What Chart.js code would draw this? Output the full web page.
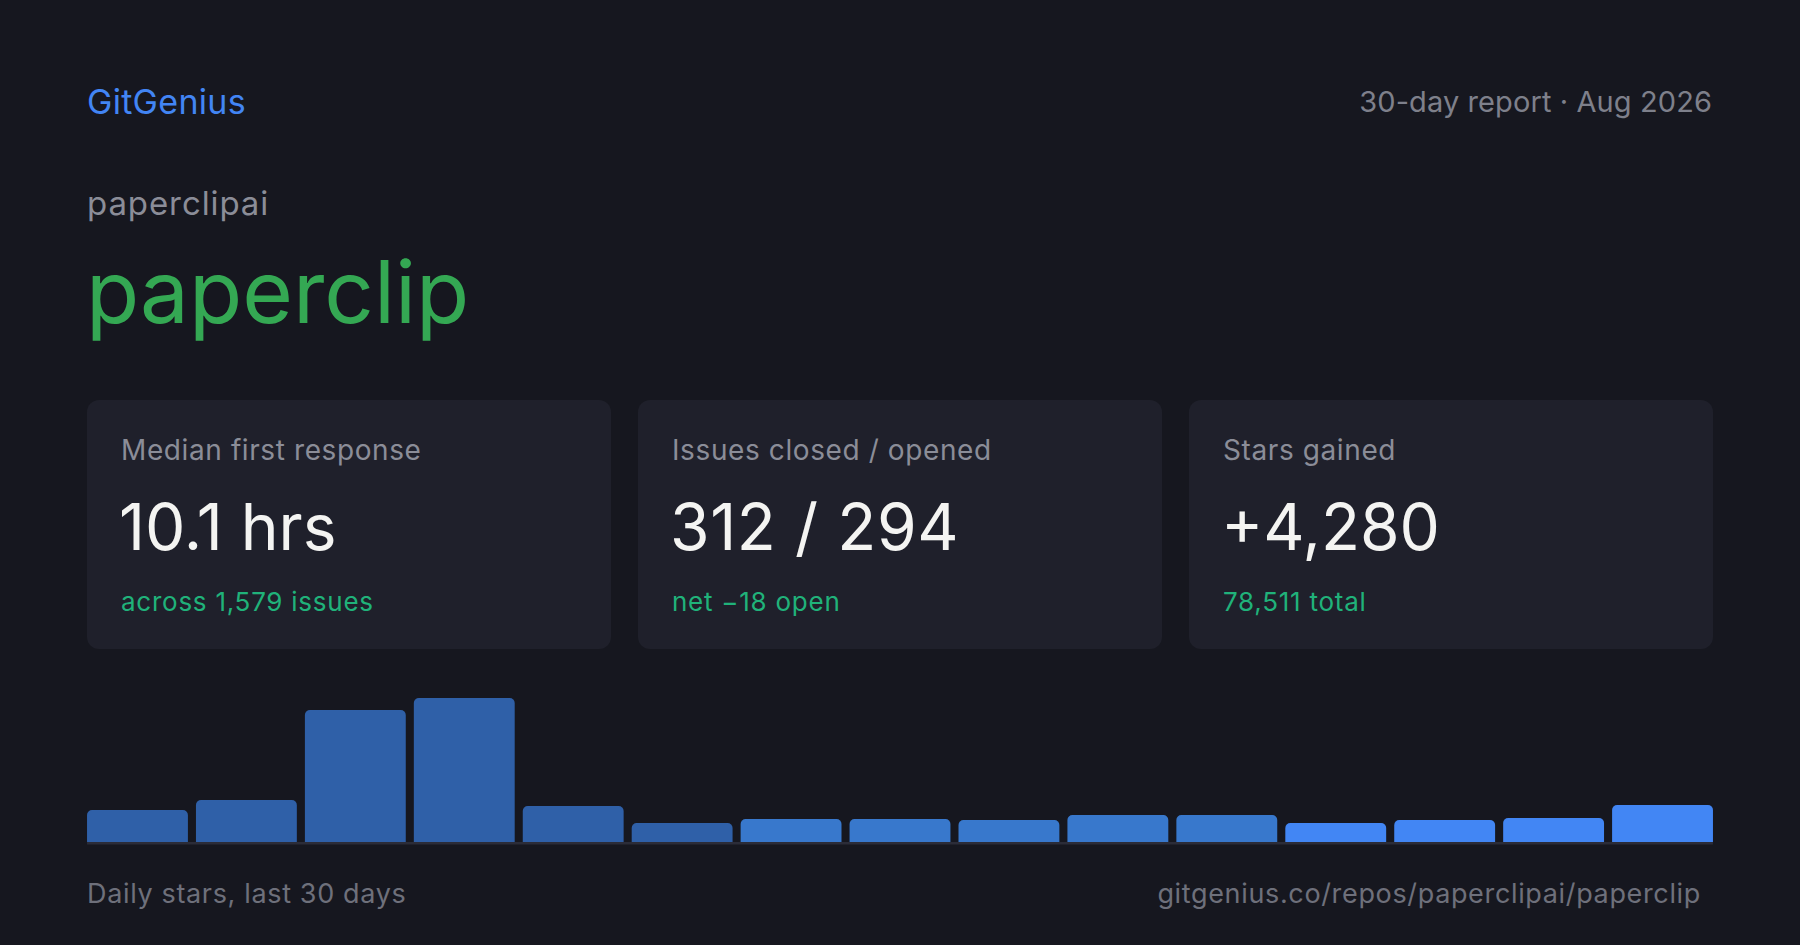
<!DOCTYPE html>
<html>
<head>
<meta charset="utf-8">
<script src="https://cdn.jsdelivr.net/npm/chart.js@4"></script>
<style>
  html, body { margin: 0; padding: 0; }
  body {
    width: 1800px; height: 945px; overflow: hidden;
    background: #16171f;
    font-family: Inter, "Noto Sans", sans-serif;
    position: relative;
  }
  .t { position: absolute; line-height: 1; white-space: nowrap; }
  .brand { left: 87px; top: 85px; font-size: 34px; color: #4285f4; letter-spacing: 0.3px; }
  .period { right: 88px; top: 87px; font-size: 29px; color: #7e808b; letter-spacing: 0.1px; }
  .owner { left: 87px; top: 187px; font-size: 33px; color: #8b8d98; letter-spacing: 0.9px; }
  .repo { left: 86px; top: 248px; font-size: 87px; color: #34a853; }
  .card {
    position: absolute; top: 400px; width: 524px; height: 249px;
    background: #1f202b; border-radius: 12px;
  }
  .card .lbl { left: 34px; top: 36px; font-size: 28px; color: #8b8d98; letter-spacing: 0.6px; }
  .card .val { left: 32px; top: 95px; font-size: 64px; color: #f4f4f2; }
  .card .sub { left: 34px; top: 189px; font-size: 26px; color: #20b27a; letter-spacing: 0.75px; }
  .foot { top: 880px; font-size: 27px; color: #6e707b; letter-spacing: 0.65px; }
  #chartBox { position: absolute; left: 83px; top: 690px; width: 1634px; height: 156px; }
</style>
</head>
<body>
<div class="t brand">GitGenius</div>
<div class="t period">30-day report · Aug 2026</div>
<div class="t owner">paperclipai</div>
<div class="t repo">paperclip</div>

<div class="card" style="left:87px">
  <div class="t lbl">Median first response</div>
  <div class="t val">10.1 hrs</div>
  <div class="t sub">across 1,579 issues</div>
</div>
<div class="card" style="left:638px">
  <div class="t lbl">Issues closed / opened</div>
  <div class="t val" style="letter-spacing:0.6px">312 / 294</div>
  <div class="t sub">net −18 open</div>
</div>
<div class="card" style="left:1189px">
  <div class="t lbl">Stars gained</div>
  <div class="t val">+4,280</div>
  <div class="t sub">78,511 total</div>
</div>

<div id="chartBox"><canvas id="starsChart" width="1634" height="156"></canvas></div>

<div class="t foot" style="left:87px">Daily stars, last 30 days</div>
<div class="t foot" style="right:99px">gitgenius.co/repos/paperclipai/paperclip</div>

<script>
// data: setiap bar = 2 hari
const periods = ["1–2", "3–4", "5–6", "7–8", "9–10", "11–12", "13–14", "15–16",
                 "17–18", "19–20", "21–22", "23–24", "25–26", "27–28", "29–30"];
const starsGained = [218, 286, 898, 980, 245, 129, 156, 156, 150, 184, 184, 129, 150, 163, 252];

// warna bar (lama -> baru)
const barColors = ["#2f60a8", "#2f60a8", "#2f60a8", "#2f60a8", "#2f60a8", "#2f60a8",
                   "#3878cc", "#3878cc", "#3878cc", "#3878cc", "#3878cc",
                   "#4286f4", "#4286f4", "#4286f4", "#4286f4"];

// garis dasar di bawah bar
const baseLine = {
    id: "baseLine",
    beforeDatasetsDraw(chart) {
        const bars = chart.getDatasetMeta(0).data;
        if (!bars.length) return;
        const first = bars[0], last = bars[bars.length - 1];
        const y = chart.scales.y.getPixelForValue(0);
        const ctx = chart.ctx;
        ctx.save();
        ctx.fillStyle = "#2b2c38";
        ctx.fillRect(first.x - first.width / 2, y, (last.x + last.width / 2) - (first.x - first.width / 2), 2.5);
        ctx.restore();
    }
};

document.addEventListener("DOMContentLoaded", function () {
    const ctx = document.getElementById("starsChart").getContext("2d");
    window.chart1 = new Chart(ctx, {
        type: "bar",
        data: {
            labels: periods,
            datasets: [{
                label: "Stars",
                data: starsGained,
                backgroundColor: barColors,
                hoverBackgroundColor: barColors,
                borderWidth: 0,
                borderRadius: 5,
                borderSkipped: "bottom",
                barPercentage: 0.926,
                categoryPercentage: 1.0
            }]
        },
        options: {
            responsive: false,
            animation: false,
            layout: { padding: { top: 8, bottom: 4, left: 0, right: 0 } },
            scales: {
                x: { display: false },
                y: { display: false, min: 0, max: 980 }
            },
            plugins: {
                legend: { display: false },
                tooltip: { enabled: false }
            }
        },
        plugins: [baseLine]
    });
});
</script>
</body>
</html>
